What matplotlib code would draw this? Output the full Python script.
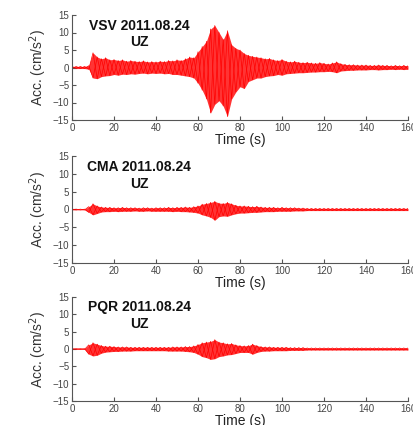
import matplotlib
matplotlib.use("Agg")
import matplotlib.pyplot as plt
import numpy as np

plt.rcParams['font.family'] = ['Liberation Sans', 'DejaVu Sans']

# time samples (s), 2-s steps
time = list(range(0, 161, 2))

stations = ["VSV 2011.08.24", "CMA 2011.08.24", "PQR 2011.08.24"]
component = "UZ"

# upper / lower envelope of acceleration (cm/s^2)
vsv_upper = [0.3, 0.3, 0.3, 0.3, 0.5, 4.2, 3.0, 2.5, 2.8, 2.2, 2.3, 2.0, 2.2, 1.8, 2.0, 1.8, 1.7, 1.9, 1.6, 1.7,
             1.6, 1.8, 1.7, 2.0, 1.9, 2.2, 2.0, 2.5, 3.0, 2.8, 4.5, 6.0, 7.5, 11.0, 12.0, 10.0, 8.0, 10.5, 6.5, 5.5,
             5.0, 4.0, 3.5, 3.2, 3.0, 2.8, 2.5, 2.6, 2.2, 2.0, 2.3, 1.8, 1.6, 1.8, 1.5, 1.4, 1.5, 1.3, 1.2, 1.4,
             1.2, 1.0, 1.3, 1.6, 1.1, 0.9, 0.8, 0.8, 0.7, 0.7, 0.7, 0.6, 0.6, 0.7, 0.6, 0.6, 0.5, 0.6, 0.5, 0.6, 0.5]
vsv_lower = [-0.3, -0.3, -0.3, -0.3, -0.5, -3.0, -3.2, -2.6, -2.4, -2.3, -2.0, -2.2, -1.9, -2.0, -1.8, -1.9, -1.7, -1.6, -1.8, -1.6,
             -1.7, -1.6, -1.8, -1.7, -2.0, -2.0, -2.2, -2.4, -2.6, -3.0, -4.5, -6.5, -9.0, -13.0, -10.5, -9.5, -11.0, -14.0, -9.0, -7.0,
             -5.5, -6.0, -4.0, -3.5, -3.0, -3.0, -2.6, -2.4, -2.3, -2.0, -2.2, -1.8, -1.7, -1.6, -1.5, -1.5, -1.4, -1.3, -1.3, -1.2,
             -1.2, -1.1, -1.2, -1.5, -1.0, -0.9, -0.8, -0.8, -0.7, -0.7, -0.7, -0.6, -0.6, -0.7, -0.6, -0.6, -0.5, -0.6, -0.5, -0.6, -0.5]

cma_upper = [0.1, 0.1, 0.1, 0.1, 0.8, 1.6, 1.0, 0.7, 0.6, 0.6, 0.5, 0.5, 0.6, 0.5, 0.5, 0.5, 0.4, 0.5, 0.5, 0.4,
             0.5, 0.5, 0.5, 0.6, 0.5, 0.6, 0.6, 0.7, 0.6, 0.8, 1.0, 1.5, 1.7, 2.0, 2.3, 1.8, 1.7, 2.0, 1.6, 1.2,
             1.0, 1.0, 0.9, 0.8, 0.9, 0.7, 0.6, 0.6, 0.6, 0.5, 0.6, 0.5, 0.5, 0.5, 0.4, 0.4, 0.3, 0.3, 0.3, 0.3,
             0.3, 0.3, 0.3, 0.3, 0.3, 0.3, 0.3, 0.3, 0.3, 0.3, 0.3, 0.3, 0.3, 0.3, 0.3, 0.3, 0.3, 0.3, 0.3, 0.3, 0.3]
cma_lower = [-0.1, -0.1, -0.1, -0.1, -0.8, -1.5, -1.1, -0.7, -0.6, -0.6, -0.5, -0.6, -0.5, -0.5, -0.5, -0.4, -0.5, -0.5, -0.4, -0.5,
             -0.5, -0.5, -0.5, -0.5, -0.6, -0.5, -0.6, -0.6, -0.7, -0.8, -1.0, -1.5, -1.8, -2.2, -3.0, -2.0, -1.8, -1.9, -1.5, -1.2,
             -1.0, -1.0, -0.9, -0.8, -0.8, -0.7, -0.6, -0.6, -0.6, -0.5, -0.5, -0.5, -0.5, -0.4, -0.4, -0.4, -0.3, -0.3, -0.3, -0.3,
             -0.3, -0.3, -0.3, -0.3, -0.3, -0.3, -0.3, -0.3, -0.3, -0.3, -0.3, -0.3, -0.3, -0.3, -0.3, -0.3, -0.3, -0.3, -0.3, -0.3, -0.3]

pqr_upper = [0.1, 0.1, 0.1, 0.1, 1.2, 1.8, 1.4, 1.0, 0.8, 0.8, 0.7, 0.6, 0.6, 0.6, 0.5, 0.5, 0.5, 0.5, 0.5, 0.5,
             0.5, 0.5, 0.5, 0.5, 0.6, 0.6, 0.6, 0.7, 0.7, 0.9, 1.3, 1.8, 2.0, 2.2, 2.7, 2.0, 1.8, 1.5, 1.6, 1.2,
             1.0, 0.9, 1.0, 1.4, 1.0, 0.7, 0.6, 0.6, 0.5, 0.5, 0.5, 0.5, 0.4, 0.4, 0.4, 0.4, 0.3, 0.3, 0.3, 0.3,
             0.3, 0.3, 0.3, 0.3, 0.3, 0.3, 0.3, 0.3, 0.3, 0.3, 0.3, 0.3, 0.3, 0.3, 0.3, 0.3, 0.3, 0.3, 0.3, 0.3, 0.3]
pqr_lower = [-0.1, -0.1, -0.1, -0.1, -1.5, -2.0, -1.8, -1.2, -0.9, -0.8, -0.7, -0.7, -0.6, -0.6, -0.6, -0.5, -0.5, -0.5, -0.5, -0.5,
             -0.5, -0.5, -0.5, -0.6, -0.6, -0.6, -0.6, -0.7, -0.8, -1.0, -1.5, -2.2, -2.5, -3.0, -2.8, -2.2, -2.0, -1.7, -1.6, -1.3,
             -1.0, -1.0, -1.0, -1.5, -1.0, -0.7, -0.6, -0.6, -0.5, -0.5, -0.5, -0.5, -0.4, -0.4, -0.4, -0.4, -0.3, -0.3, -0.3, -0.3,
             -0.3, -0.3, -0.3, -0.3, -0.3, -0.3, -0.3, -0.3, -0.3, -0.3, -0.3, -0.3, -0.3, -0.3, -0.3, -0.3, -0.3, -0.3, -0.3, -0.3, -0.3]

uppers = [vsv_upper, cma_upper, pqr_upper]
lowers = [vsv_lower, cma_lower, pqr_lower]

xticks = [0, 20, 40, 60, 80, 100, 120, 140, 160]
yticks = [-15, -10, -5, 0, 5, 10, 15]

fig = plt.figure(figsize=(4.14, 4.25), dpi=100)
fig.patch.set_facecolor('white')

left = 72 / 414
width = 336 / 414
panel_px = [(15, 120), (156, 263), (297, 401)]

grey = '#555555'
for k in range(3):
    top, bot = panel_px[k]
    ax = fig.add_axes([left, 1 - bot / 425, width, (bot - top) / 425])
    up = np.array(uppers[k])
    lo = np.array(lowers[k])
    t = np.array(time)
    ax.fill_between(t, lo, up, color='#ff1010', alpha=0.85, linewidth=0)
    zig = np.where(np.arange(len(t)) % 2 == 0, up, lo)
    ax.plot(t, zig, color='#ff0000', linewidth=0.5)
    zig2 = np.where(np.arange(len(t)) % 2 == 1, up, lo)
    ax.plot(t, zig2, color='#ff0000', linewidth=0.5)
    ax.set_xlim(0, 160)
    ax.set_ylim(-15, 15)
    ax.set_xticks(xticks)
    ax.set_yticks(yticks)
    for s in ['top', 'right']:
        ax.spines[s].set_visible(False)
    for s in ['left', 'bottom']:
        ax.spines[s].set_color(grey)
        ax.spines[s].set_linewidth(0.8)
    ax.tick_params(direction='in', length=3, width=0.8, colors=grey, labelsize=7, pad=2)
    ax.tick_params(labelcolor='#444444')
    ax.set_xlabel('Time (s)', fontsize=10, labelpad=0, color='#222222')
    ax.set_ylabel('Acc. (cm/s$^2$)', fontsize=10, labelpad=3, color='#333333')
    ax.text(0.2, 0.9, stations[k], transform=ax.transAxes, fontsize=10, fontweight='bold',
            ha='center', va='center', color='#111111')
    ax.text(0.2, 0.74, component, transform=ax.transAxes, fontsize=10, fontweight='bold',
            ha='center', va='center', color='#111111')

fig.savefig('out.png', dpi=100)
